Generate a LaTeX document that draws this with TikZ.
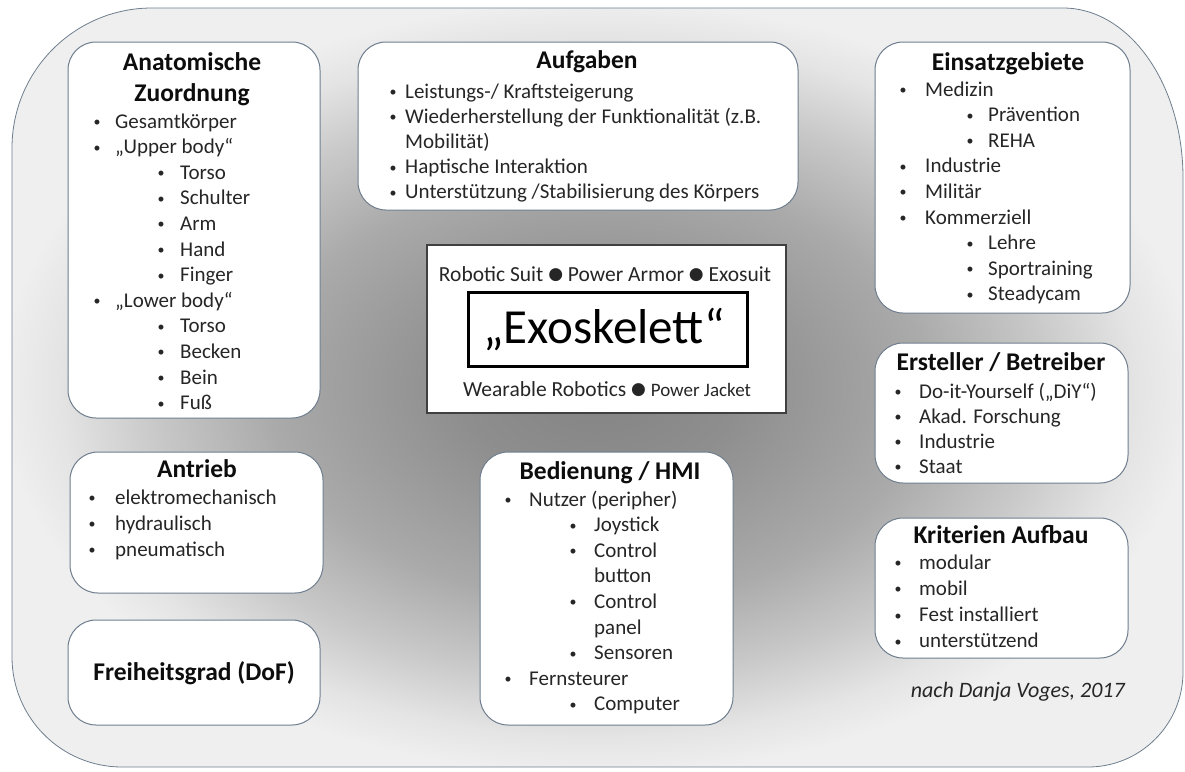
\documentclass[tikz,border=0pt]{standalone}
\usepackage{fontspec}
\setmainfont{Carlito}
\newfontfamily\symfont{DejaVu Sans}
\definecolor{bordc}{HTML}{6F7E8E}
\definecolor{txt}{HTML}{262626}
\definecolor{bgA}{HTML}{838383}
\definecolor{bgB}{HTML}{8E8E8E}
\definecolor{bgC}{HTML}{AAAAAA}
\definecolor{bgD}{HTML}{C8C8C8}
\definecolor{bgE}{HTML}{E4E4E4}
\definecolor{bgF}{HTML}{EFEFEF}
\pgfdeclareradialshading{exobg}{\pgfpoint{0bp}{0bp}}{color(0bp)=(bgA); color(6bp)=(bgB); color(14bp)=(bgC); color(19bp)=(bgD); color(23bp)=(bgE); color(25.5bp)=(bgF); color(50bp)=(bgF)}
\newcommand\rboxat[5]{\node[rbox, minimum width={(#4-#2)*1pt}, minimum height={(#5-#3)*1pt}] (#1) at ({(#2+#4)/2},{(#3+#5)/2}) {};}
\newcommand\bul{\raisebox{1.5pt}{\fontsize{14}{14}\selectfont •}}
\newcommand\itemlist[8]{%
  \foreach [count=\i] \l/\t in {#8} {%
    \pgfmathsetmacro\xx{(\l==1 || \l==3) ? #2 : #3}%
    \pgfmathsetmacro\gp{(\l==1) ? #6 : #7}%
    \pgfmathsetmacro\yy{#4+#5*(\i-1)}%
    \node[item] (#1\i) at (\xx,\yy) {\ifnum\l<3 \llap{\makebox[\gp pt]{\bul}}\fi\t};
  }}
\newcommand\dotsym{\raisebox{1.5pt}{\symfont\fontsize{17}{17}\selectfont ●}}
\begin{document}
\begin{tikzpicture}[x=1pt,y=-1pt,
  rbox/.style={draw=bordc, fill=white, rounded corners=28pt, line width=1pt, inner sep=0pt},
  item/.style={anchor=base west, inner sep=0pt, text=txt, font=\fontsize{21}{25}\selectfont},
  ttl/.style={anchor=base, inner sep=0pt, text=black!95, font=\bfseries\fontsize{25.5}{30}\selectfont}]
\useasboundingbox (0,0) rectangle (1185,771);
\shadedraw[shading=exobg, draw=bordc, line width=0.8pt]
  (12,148) arc[start angle=180,end angle=270,radius=140]
  -- (1063,8) arc[start angle=270,end angle=360,x radius=120,y radius=170]
  -- (1183,672) arc[start angle=0,end angle=90,radius=95]
  -- (122,767) arc[start angle=90,end angle=180,radius=110] -- cycle;

% boxes
\rboxat{ana}{68}{42}{320}{418}
\rboxat{auf}{358}{42}{798}{210}
\rboxat{ein}{875}{42}{1130}{313}
\rboxat{ers}{875}{343}{1128}{483}
\rboxat{kri}{875}{518}{1128}{658}
\rboxat{bed}{480}{452}{733}{725}
\rboxat{ant}{70}{452}{323}{593}
\rboxat{fre}{68}{620}{320}{725}

% titles
\node[ttl] (anaT1) at (192,70) {Anatomische};
\node[ttl] (anaT2) at (192,101) {Zuordnung};
\node[ttl] (aufT) at (587,68) {Aufgaben};
\node[ttl] (einT) at (1008,70) {Einsatzgebiete};
\node[ttl] (ersT) at (1001,370) {Ersteller / Betreiber};
\node[ttl] (kriT) at (1001,543) {Kriterien Aufbau};
\node[ttl] (bedT) at (610,479) {Bedienung / HMI};
\node[ttl] (antT) at (197,477) {Antrieb};
\node[ttl] (freT) at (194,680) {Freiheitsgrad (DoF)};

% lists
\itemlist{anaI}{115}{180}{128}{25.6}{36}{38}{1/Gesamtkörper, 1/{„Upper body“}, 2/Torso, 2/Schulter, 2/Arm, 2/Hand, 2/Finger, 1/{„Lower body“}, 2/Torso, 2/Becken, 2/Bein, 2/Fuß}
\itemlist{aufI}{405}{405}{98}{25.2}{24}{24}{1/{Leistungs-/ Kraftsteigerung}, 1/{Wiederherstellung der Funktionalität (z.B.}, 3/{Mobilität)}, 1/{Haptische Interaktion}, 1/{Unterstützung /Stabilisierung des Körpers}}
\itemlist{einI}{925}{988}{96}{25.6}{44}{36}{1/Medizin, 2/Prävention, 2/REHA, 1/Industrie, 1/Militär, 1/Kommerziell, 2/Lehre, 2/Sportraining, 2/Steadycam}
\itemlist{ersI}{919}{919}{398}{25}{42}{42}{1/{Do-it-Yourself („DiY“)}, 1/{Akad. Forschung}, 1/Industrie, 1/Staat}
\itemlist{kriI}{919}{919}{569}{26.3}{42}{42}{1/modular, 1/mobil, 1/{Fest installiert}, 1/unterstützend}
\itemlist{bedI}{529}{594}{506}{25.6}{42}{42}{1/{Nutzer (peripher)}, 2/Joystick, 2/Control, 4/button, 2/Control, 4/panel, 2/Sensoren, 1/Fernsteurer, 2/Computer}
\itemlist{antI}{115}{115}{504}{26}{46}{46}{1/elektromechanisch, 1/hydraulisch, 1/pneumatisch}

% centre
\node[draw=black!75, fill=white, line width=1.2pt, minimum width=359pt, minimum height=168pt, inner sep=0pt] (ctr) at (606.5,329) {};
\node[draw=black, line width=3pt, minimum width=279pt, minimum height=74pt, inner sep=0pt] (exo) at (607.5,329) {};
\node[anchor=base, inner sep=0pt, text=txt, font=\fontsize{21.5}{24}\selectfont] (syn1) at (605,281) {Robotic Suit \dotsym{} Power Armor \dotsym{} Exosuit};
\node[anchor=base, inner sep=0pt, text=black, font=\fontsize{49}{52}\selectfont] (exoT) at (604,343) {„Exoskelett“};
\node[anchor=base, inner sep=0pt, text=txt, font=\fontsize{21.5}{24}\selectfont] (syn2) at (607,396) {Wearable Robotics \dotsym{} {\fontsize{19}{22}\selectfont Power Jacket}};

% credit
\node[anchor=base east, inner sep=0pt, text=txt, font=\itshape\fontsize{22}{26}\selectfont] (cred) at (1125,697) {nach Danja Voges, 2017};
\end{tikzpicture}
\end{document}
